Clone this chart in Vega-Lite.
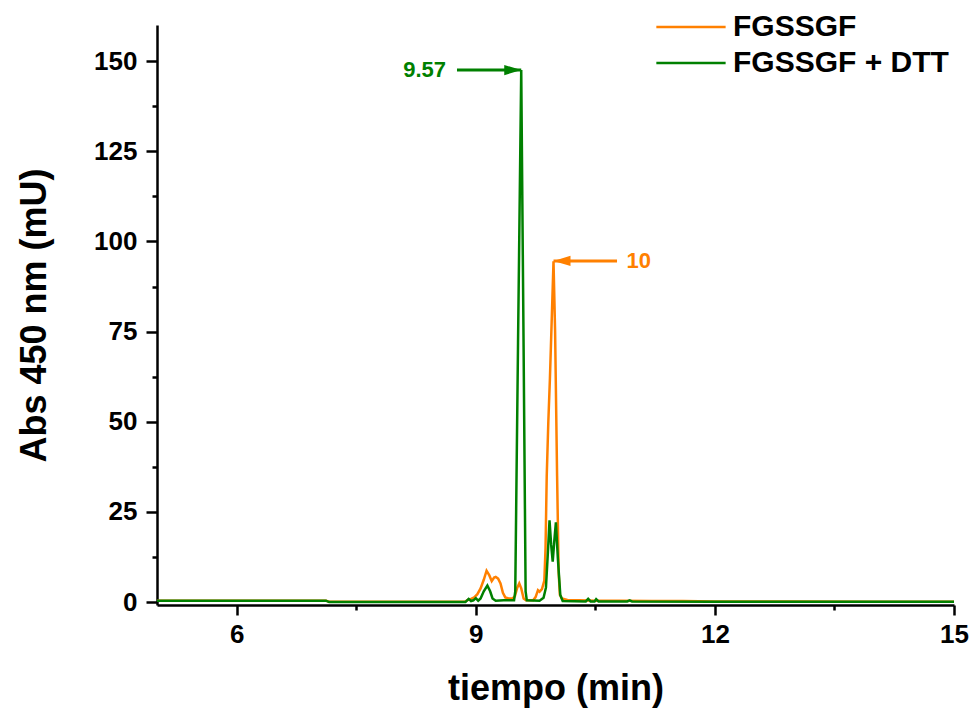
{
  "$schema": "https://vega.github.io/schema/vega-lite/v6.json",
  "width": 797,
  "height": 580,
  "autosize": "none",
  "padding": {"left": 157, "top": 25, "right": 16, "bottom": 105},
  "background": "white",
  "config": {
    "view": {"stroke": null},
    "font": "Liberation Sans",
    "axis": {
      "grid": false,
      "domainColor": "black",
      "domainWidth": 2.5,
      "tickColor": "black",
      "tickWidth": 2.5,
      "labelFont": "Liberation Sans",
      "labelFontWeight": "bold",
      "labelFontSize": 26,
      "labelColor": "black",
      "labelFlush": false,
      "labelOverlap": false,
      "titleFont": "Liberation Sans",
      "titleFontWeight": "bold",
      "titleFontSize": 36,
      "titleColor": "black"
    }
  },
  "datasets": {
    "ann": [
      {"s": "FGSSGF + DTT", "tip": 9.57, "tail": 8.764, "y": 147.5, "label": "9.57", "lx": 8.626},
      {"s": "FGSSGF", "tip": 9.975, "tail": 10.772, "y": 94.6, "label": "10", "lx": 10.89}
    ]
  },
  "resolve": {"axis": {"x": "independent", "y": "independent"}},
  "layer": [
    {
      "data": {"values": [
        {"t": 5.0, "s": "FGSSGF", "v": 0.4},
        {"t": 6.0, "s": "FGSSGF", "v": 0.4},
        {"t": 7.0, "s": "FGSSGF", "v": 0.4},
        {"t": 7.12, "s": "FGSSGF", "v": 0.4},
        {"t": 7.16, "s": "FGSSGF", "v": 0.1},
        {"t": 8.0, "s": "FGSSGF", "v": 0.1},
        {"t": 8.86, "s": "FGSSGF", "v": 0.1},
        {"t": 8.9, "s": "FGSSGF", "v": 0.6},
        {"t": 8.94, "s": "FGSSGF", "v": 0.9},
        {"t": 8.98, "s": "FGSSGF", "v": 1.3},
        {"t": 9.02, "s": "FGSSGF", "v": 2.2},
        {"t": 9.06, "s": "FGSSGF", "v": 3.8},
        {"t": 9.1, "s": "FGSSGF", "v": 6.2},
        {"t": 9.135, "s": "FGSSGF", "v": 8.7},
        {"t": 9.17, "s": "FGSSGF", "v": 7.4},
        {"t": 9.2, "s": "FGSSGF", "v": 5.8},
        {"t": 9.23, "s": "FGSSGF", "v": 6.8},
        {"t": 9.25, "s": "FGSSGF", "v": 7.0},
        {"t": 9.28, "s": "FGSSGF", "v": 6.5},
        {"t": 9.31, "s": "FGSSGF", "v": 5.2},
        {"t": 9.34, "s": "FGSSGF", "v": 2.6},
        {"t": 9.37, "s": "FGSSGF", "v": 1.3},
        {"t": 9.41, "s": "FGSSGF", "v": 1.0},
        {"t": 9.46, "s": "FGSSGF", "v": 1.0},
        {"t": 9.49, "s": "FGSSGF", "v": 1.6},
        {"t": 9.52, "s": "FGSSGF", "v": 4.0},
        {"t": 9.545, "s": "FGSSGF", "v": 5.2},
        {"t": 9.57, "s": "FGSSGF", "v": 3.8},
        {"t": 9.6, "s": "FGSSGF", "v": 1.0},
        {"t": 9.63, "s": "FGSSGF", "v": 0.5},
        {"t": 9.72, "s": "FGSSGF", "v": 0.5},
        {"t": 9.75, "s": "FGSSGF", "v": 1.4},
        {"t": 9.78, "s": "FGSSGF", "v": 3.3},
        {"t": 9.8, "s": "FGSSGF", "v": 2.9},
        {"t": 9.83, "s": "FGSSGF", "v": 3.6},
        {"t": 9.86, "s": "FGSSGF", "v": 6},
        {"t": 9.875, "s": "FGSSGF", "v": 15},
        {"t": 9.89, "s": "FGSSGF", "v": 35},
        {"t": 9.91, "s": "FGSSGF", "v": 50},
        {"t": 9.93, "s": "FGSSGF", "v": 62},
        {"t": 9.955, "s": "FGSSGF", "v": 80},
        {"t": 9.975, "s": "FGSSGF", "v": 94.5},
        {"t": 9.995, "s": "FGSSGF", "v": 75},
        {"t": 10.02, "s": "FGSSGF", "v": 35},
        {"t": 10.04, "s": "FGSSGF", "v": 8},
        {"t": 10.055, "s": "FGSSGF", "v": 2},
        {"t": 10.08, "s": "FGSSGF", "v": 1.0},
        {"t": 10.15, "s": "FGSSGF", "v": 0.6},
        {"t": 10.3, "s": "FGSSGF", "v": 0.5},
        {"t": 10.5, "s": "FGSSGF", "v": 0.4},
        {"t": 10.8, "s": "FGSSGF", "v": 0.4},
        {"t": 11.2, "s": "FGSSGF", "v": 0.3},
        {"t": 11.6, "s": "FGSSGF", "v": 0.3},
        {"t": 12.0, "s": "FGSSGF", "v": 0.2},
        {"t": 13.0, "s": "FGSSGF", "v": 0.2},
        {"t": 14.0, "s": "FGSSGF", "v": 0.1},
        {"t": 15.0, "s": "FGSSGF", "v": 0.1},
        {"t": 5.0, "s": "FGSSGF + DTT", "v": 0.4},
        {"t": 7.12, "s": "FGSSGF + DTT", "v": 0.4},
        {"t": 7.16, "s": "FGSSGF + DTT", "v": 0.0},
        {"t": 8.87, "s": "FGSSGF + DTT", "v": 0.0},
        {"t": 8.91, "s": "FGSSGF + DTT", "v": 0.9},
        {"t": 8.94, "s": "FGSSGF + DTT", "v": 0.3},
        {"t": 8.97, "s": "FGSSGF + DTT", "v": 0.5},
        {"t": 9.0, "s": "FGSSGF + DTT", "v": 1.1},
        {"t": 9.03, "s": "FGSSGF + DTT", "v": 0.4},
        {"t": 9.06, "s": "FGSSGF + DTT", "v": 1.0},
        {"t": 9.1, "s": "FGSSGF + DTT", "v": 3.0},
        {"t": 9.145, "s": "FGSSGF + DTT", "v": 4.6},
        {"t": 9.18, "s": "FGSSGF + DTT", "v": 3.0},
        {"t": 9.21, "s": "FGSSGF + DTT", "v": 1.0},
        {"t": 9.25, "s": "FGSSGF + DTT", "v": 0.4},
        {"t": 9.35, "s": "FGSSGF + DTT", "v": 0.5},
        {"t": 9.48, "s": "FGSSGF + DTT", "v": 0.5},
        {"t": 9.495, "s": "FGSSGF + DTT", "v": 3},
        {"t": 9.53, "s": "FGSSGF + DTT", "v": 72},
        {"t": 9.57, "s": "FGSSGF + DTT", "v": 147.5},
        {"t": 9.60, "s": "FGSSGF + DTT", "v": 70},
        {"t": 9.625, "s": "FGSSGF + DTT", "v": 3},
        {"t": 9.64, "s": "FGSSGF + DTT", "v": 0.5},
        {"t": 9.8, "s": "FGSSGF + DTT", "v": 0.4},
        {"t": 9.85, "s": "FGSSGF + DTT", "v": 1.2},
        {"t": 9.88, "s": "FGSSGF + DTT", "v": 4},
        {"t": 9.905, "s": "FGSSGF + DTT", "v": 14},
        {"t": 9.925, "s": "FGSSGF + DTT", "v": 22.7},
        {"t": 9.945, "s": "FGSSGF + DTT", "v": 16},
        {"t": 9.965, "s": "FGSSGF + DTT", "v": 11.2},
        {"t": 9.985, "s": "FGSSGF + DTT", "v": 17},
        {"t": 10.005, "s": "FGSSGF + DTT", "v": 22.1},
        {"t": 10.03, "s": "FGSSGF + DTT", "v": 12},
        {"t": 10.06, "s": "FGSSGF + DTT", "v": 2},
        {"t": 10.09, "s": "FGSSGF + DTT", "v": 0.3},
        {"t": 10.38, "s": "FGSSGF + DTT", "v": 0.2},
        {"t": 10.41, "s": "FGSSGF + DTT", "v": 0.9},
        {"t": 10.44, "s": "FGSSGF + DTT", "v": 0.2},
        {"t": 10.49, "s": "FGSSGF + DTT", "v": 0.2},
        {"t": 10.51, "s": "FGSSGF + DTT", "v": 0.8},
        {"t": 10.54, "s": "FGSSGF + DTT", "v": 0.2},
        {"t": 10.9, "s": "FGSSGF + DTT", "v": 0.2},
        {"t": 10.93, "s": "FGSSGF + DTT", "v": 0.5},
        {"t": 10.96, "s": "FGSSGF + DTT", "v": 0.2},
        {"t": 12.0, "s": "FGSSGF + DTT", "v": 0.1},
        {"t": 15.0, "s": "FGSSGF + DTT", "v": 0.1}
      ]},
      "mark": {"type": "line", "strokeWidth": 2.5, "clip": true, "interpolate": "linear"},
      "encoding": {
        "x": {
          "field": "t", "type": "quantitative",
          "scale": {"domain": [5, 15], "nice": false, "zero": false},
          "axis": {"orient": "bottom", "values": [6, 9, 12, 15], "tickSize": 10, "labelPadding": 6, "title": "tiempo (min)", "titlePadding": 24}
        },
        "y": {
          "field": "v", "type": "quantitative",
          "scale": {"domain": [-0.8, 160], "nice": false, "zero": false},
          "axis": {"orient": "left", "values": [0, 25, 50, 75, 100, 125, 150], "tickSize": 11, "labelPadding": 9, "title": "Abs 450 nm (mU)", "titlePadding": 40}
        },
        "color": {
          "field": "s", "type": "nominal",
          "scale": {"domain": ["FGSSGF", "FGSSGF + DTT"], "range": ["#FF8000", "#008000"]},
          "legend": {
            "orient": "none", "legendX": 493, "legendY": -13, "title": null, "padding": 0,
            "symbolType": "M-1,0L7,0", "symbolSize": 300, "symbolStrokeWidth": 2.5,
            "labelFont": "Liberation Sans", "labelFontWeight": "bold", "labelFontSize": 30, "labelColor": "black",
            "labelOffset": 53, "labelLimit": 400, "rowPadding": 6
          }
        },
        "order": {"field": "t", "type": "quantitative"}
      }
    },
    {
      "data": {"name": "ann"},
      "transform": [{"filter": "datum.s === 'FGSSGF + DTT'"}],
      "mark": {"type": "rule", "color": "#008000", "strokeWidth": 3},
      "encoding": {
        "x": {"field": "tail", "type": "quantitative", "axis": {"orient": "bottom", "values": [7.5, 10.5, 13.5], "labels": false, "domain": false, "tickSize": 5, "title": null}},
        "x2": {"field": "tip"},
        "y": {"field": "y", "type": "quantitative", "axis": {"orient": "left", "values": [12.5, 37.5, 62.5, 87.5, 112.5, 137.5], "labels": false, "domain": false, "tickSize": 5, "title": null}}
      }
    },
    {
      "data": {"name": "ann"},
      "transform": [{"filter": "datum.s === 'FGSSGF'"}],
      "mark": {"type": "rule", "color": "#FF8000", "strokeWidth": 3},
      "encoding": {
        "x": {"field": "tail", "type": "quantitative", "axis": null},
        "x2": {"field": "tip"},
        "y": {"field": "y", "type": "quantitative", "axis": null}
      }
    },
    {
      "data": {"name": "ann"},
      "transform": [{"filter": "datum.s === 'FGSSGF + DTT'"}],
      "mark": {"type": "point", "shape": "M0,0L-2,-0.6L-2,0.6Z", "size": 289, "filled": true, "color": "#008000", "opacity": 1, "strokeWidth": 0},
      "encoding": {
        "x": {"field": "tip", "type": "quantitative", "axis": null},
        "y": {"field": "y", "type": "quantitative", "axis": null}
      }
    },
    {
      "data": {"name": "ann"},
      "transform": [{"filter": "datum.s === 'FGSSGF'"}],
      "mark": {"type": "point", "shape": "M0,0L2,-0.6L2,0.6Z", "size": 289, "filled": true, "color": "#FF8000", "opacity": 1, "strokeWidth": 0},
      "encoding": {
        "x": {"field": "tip", "type": "quantitative", "axis": null},
        "y": {"field": "y", "type": "quantitative", "axis": null}
      }
    },
    {
      "data": {"name": "ann"},
      "transform": [{"filter": "datum.s === 'FGSSGF + DTT'"}],
      "mark": {"type": "text", "align": "right", "baseline": "middle", "font": "Liberation Sans", "fontWeight": "bold", "fontSize": 22, "color": "#008000"},
      "encoding": {
        "x": {"field": "lx", "type": "quantitative", "axis": null},
        "y": {"field": "y", "type": "quantitative", "axis": null},
        "text": {"field": "label"}
      }
    },
    {
      "data": {"name": "ann"},
      "transform": [{"filter": "datum.s === 'FGSSGF'"}],
      "mark": {"type": "text", "align": "left", "baseline": "middle", "font": "Liberation Sans", "fontWeight": "bold", "fontSize": 22, "color": "#FF8000"},
      "encoding": {
        "x": {"field": "lx", "type": "quantitative", "axis": null},
        "y": {"field": "y", "type": "quantitative", "axis": null},
        "text": {"field": "label"}
      }
    }
  ]
}
